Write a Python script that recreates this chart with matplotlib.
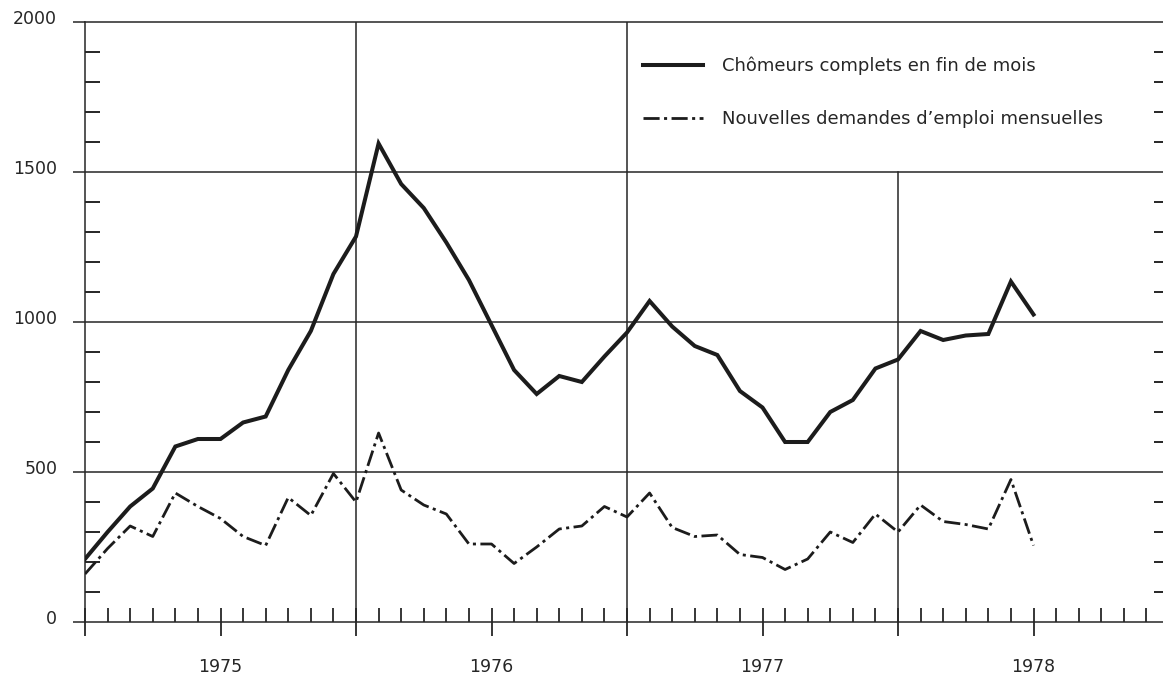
import matplotlib
matplotlib.use('Agg')
import matplotlib.pyplot as plt
import matplotlib.transforms as mtransforms
from matplotlib.ticker import FixedLocator, FuncFormatter

# ---------------- data (monthly, Jan 1975 = 0) ----------------
months = list(range(43))
chomeurs = [210, 300, 385, 445, 585, 610, 610, 665, 685, 840, 970, 1160, 1285,
            1595, 1460, 1380, 1265, 1140, 990, 840, 760, 820, 800, 885, 965,
            1070, 985, 920, 890, 770, 715, 600, 600, 700, 740, 845, 875,
            970, 940, 955, 960, 1135, 1025]
demandes = [160, 245, 320, 285, 430, 385, 345, 285, 255, 415, 355, 495, 400,
            630, 440, 390, 360, 260, 260, 195, 250, 310, 320, 385, 350,
            430, 315, 285, 290, 225, 215, 175, 210, 300, 265, 360, 300,
            390, 335, 325, 310, 475, 255]
year_labels = ['1975', '1976', '1977', '1978']
year_label_months = [6, 18, 30, 42]
y_major = [0, 500, 1000, 1500, 2000]
label_chomeurs = 'Chômeurs complets en fin de mois'
label_demandes = 'Nouvelles demandes d\u2019emploi mensuelles'

# ---------------- figure ----------------
W, H = 1163, 678
fig = plt.figure(figsize=(W / 100, H / 100), dpi=100)
ax = fig.add_axes([85 / W, (H - 622) / H, 1084 / W, 600 / H])
ink = '#262626'

ax.set_xlim(0, 48)
ax.set_ylim(0, 2000)

for s in ax.spines.values():
    s.set_color(ink)
    s.set_linewidth(1.1)

# grid lines
for v in y_major[1:-1]:
    ax.axhline(v, color=ink, lw=1.1, zorder=1)
ax.axvline(12, color=ink, lw=1.1, zorder=1)
ax.axvline(24, color=ink, lw=1.1, zorder=1)
ax.axvline(36, ymax=0.75, color=ink, lw=1.1, zorder=1)

# series
l1, = ax.plot(months, chomeurs, color='#1c1c1c', lw=2.9, solid_joinstyle='miter',
              label=label_chomeurs, zorder=3)
l2, = ax.plot(months, demandes, color='#1c1c1c', lw=2.0, label=label_demandes, zorder=3)
l2.set_dashes([5.8, 1.6, 1.1, 1.6])

# y ticks
ax.yaxis.set_major_locator(FixedLocator(y_major))
ax.yaxis.set_minor_locator(FixedLocator([v for v in range(100, 2000, 100) if v % 500]))
ax.tick_params(axis='y', which='major', direction='out', length=9, width=1.1,
               left=True, right=False, labelsize=12.5, pad=11, colors=ink)
ax.tick_params(axis='y', which='minor', direction='in', length=10.5, width=1.4,
               left=True, right=True, colors=ink)
off = mtransforms.ScaledTranslation(0, 0.05, fig.dpi_scale_trans)
for lab in ax.get_yticklabels():
    lab.set_transform(lab.get_transform() + off)

# x ticks
ax.xaxis.set_major_locator(FixedLocator(list(range(0, 49, 6))))
ax.xaxis.set_minor_locator(FixedLocator([m for m in range(49) if m % 6]))
lab_map = dict(zip(year_label_months, year_labels))
ax.xaxis.set_major_formatter(FuncFormatter(lambda x, p: lab_map.get(int(round(x)), '')))
ax.tick_params(axis='x', which='major', direction='inout', length=19.5, width=1.3,
               labelsize=12.5, pad=16, colors=ink)
ax.tick_params(axis='x', which='minor', direction='in', length=10, width=1.3, colors=ink)

# legend
leg = ax.legend(handles=[l1, l2], loc='upper left', bbox_to_anchor=(0.5148, 0.9427),
                frameon=False, fontsize=13, handlelength=3.33, handletextpad=1.05,
                labelspacing=1.95, borderpad=0, borderaxespad=0)
for t in leg.get_texts():
    t.set_color(ink)

fig.savefig('out.png', dpi=100, facecolor='white')
